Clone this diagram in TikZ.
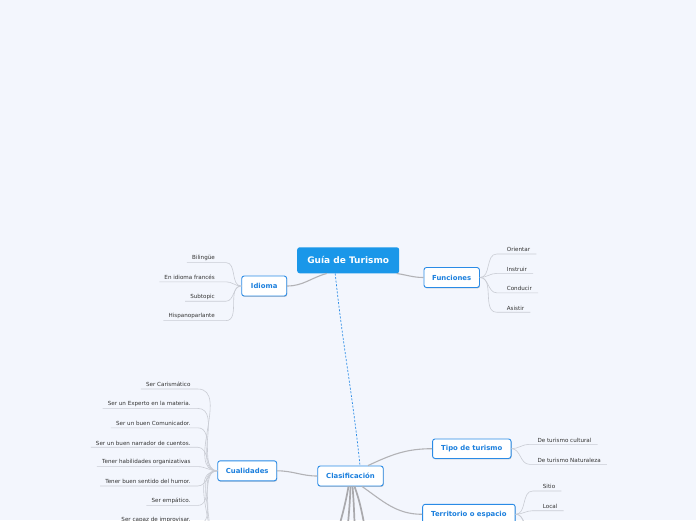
\documentclass[tikz,border=0pt]{standalone}
\usepackage{fontspec}
\setmainfont{DejaVu Sans}
\usetikzlibrary{shadows}
\definecolor{bg}{HTML}{F3F6FD}
\definecolor{mainblue}{HTML}{1A97E9}
\definecolor{subblue}{HTML}{2A8BE6}
\definecolor{subtext}{HTML}{1B7FDD}
\definecolor{leaftext}{HTML}{333333}
\definecolor{leafgray}{HTML}{C9CCD4}
\definecolor{branchgray}{HTML}{B2B2B6}
\tikzset{
  centralbox/.style={fill=mainblue, rounded corners=2.5pt, text=white,
    font=\fontsize{9}{11}\selectfont\bfseries, minimum width=102pt, minimum height=26pt, inner sep=0pt},
  subbox/.style={draw=subblue, line width=0.9pt, fill=white, rounded corners=2.5pt,
    text=subtext, font=\fontsize{6.9}{8}\selectfont\bfseries, minimum height=20pt, inner sep=0pt,
    drop shadow={shadow xshift=0.5pt, shadow yshift=-0.9pt, opacity=0.35, fill=black!60}},
  leaf/.style={text=leaftext, font=\fontsize{5.6}{6.5}\selectfont, inner xsep=0pt, inner ysep=1.8pt},
  leafline/.style={draw=leafgray, line width=0.6pt},
  branch/.style={draw=branchgray, line width=1.1pt},
  thickbranch/.style={draw=branchgray!95!black, line width=1.7pt},
  dashlink/.style={draw=subblue, line width=0.7pt, dash pattern=on 2pt off 1.6pt}
}
\begin{document}
\begin{tikzpicture}[x=1pt,y=-1pt]
\useasboundingbox (0,0) rectangle (696,520);
\clip (0,0) rectangle (696,520);
\fill[bg] (0,0) rectangle (696,520);

% main nodes
\node[centralbox] (central) at (348.2,260.3) {Guía de Turismo};
\node[subbox, minimum width=45pt] (idioma) at (264.2,286) {Idioma};
\node[subbox, minimum width=55.5pt] (funciones) at (451.7,277.5) {Funciones};
\node[subbox, minimum width=65.5pt] (clas) at (350.5,476) {Clasificación};
\node[subbox, minimum width=59pt] (cual) at (247.2,470.8) {Cualidades};
\node[subbox, minimum width=78.5pt, minimum height=19.5pt] (tipo) at (471.8,448.7) {Tipo de turismo};
\node[subbox, minimum width=92.5pt] (terr) at (468.9,514.3) {Territorio o espacio};

% main connectors
\draw[branch] ([xshift=-21.5pt]central.south) to[out=195,in=0] (idioma.east);
\draw[branch] ([xshift=48.5pt]central.south) to[out=-8,in=180] (funciones.west);
\draw[dashlink] ([xshift=-13pt]central.south) to[out=-84,in=96] ([xshift=9.5pt]clas.north);
\draw[branch] (clas.west) to[out=180,in=0] (cual.east);
\draw[branch] ([xshift=17.5pt]clas.north) to[out=25,in=180] (tipo.west);
\draw[branch] ([xshift=11.5pt]clas.south) to[out=-35,in=180] (terr.west);
\coordinate (d1) at (334,545);
\coordinate (d2) at (346,545);
\coordinate (d3) at (356,545);
\coordinate (d4) at (369,545);
\draw[thickbranch] ([xshift=-2pt]clas.south) to[out=-100,in=75] (d1);
\draw[thickbranch] ([xshift=0pt]clas.south) to[out=-92,in=85] (d2);
\draw[thickbranch] ([xshift=2pt]clas.south) to[out=-85,in=95] (d3);
\draw[thickbranch] ([xshift=4pt]clas.south) to[out=-70,in=105] (d4);

% Idioma leaves
\node[leaf, anchor=south east] (i1) at (215,262.6) {Bilingüe};
\node[leaf, anchor=south east] (i2) at (215,281.8) {En idioma francés};
\node[leaf, anchor=south east] (i3) at (215,301.2) {Subtopic};
\node[leaf, anchor=south east] (i4) at (215,320.6) {Hispanoparlante};
\foreach \n in {i1,i2,i3,i4}{
  \draw[leafline] ([xshift=-5pt]\n.south west) -- ([xshift=11pt]\n.south east) to[out=0,in=180] (idioma.west);
}

% Funciones leaves
\node[leaf, anchor=south west] (f1) at (506.7,254) {Orientar};
\node[leaf, anchor=south west] (f2) at (506.7,273.4) {Instruir};
\node[leaf, anchor=south west] (f3) at (506.7,292.8) {Conducir};
\node[leaf, anchor=south west] (f4) at (506.7,312.2) {Asistir};
\foreach \n in {f1,f2,f3,f4}{
  \draw[leafline] (funciones.east) to[out=0,in=180] ([xshift=-10pt]\n.south west) -- ([xshift=6pt]\n.south east);
}

% Cualidades leaves
\node[leaf, anchor=south east] (c1) at (190.7,389) {Ser Carismático};
\node[leaf, anchor=south east] (c2) at (190.7,408.4) {Ser un Experto en  la materia.};
\node[leaf, anchor=south east] (c3) at (190.7,427.8) {Ser un buen Comunicador.};
\node[leaf, anchor=south east] (c4) at (190.7,447.2) {Ser un buen narrador de cuentos.};
\node[leaf, anchor=south east] (c5) at (190.7,466.6) {Tener habilidades organizativas};
\node[leaf, anchor=south east] (c6) at (190.7,486) {Tener buen sentido del humor.};
\node[leaf, anchor=south east] (c7) at (190.7,505.4) {Ser empático.};
\node[leaf, anchor=south east] (c8) at (190.7,524.3) {Ser capaz de improvisar.};
\foreach \n in {c1,c2,c3,c4,c5,c6,c7,c8}{
  \draw[leafline] ([xshift=-5pt]\n.south west) -- ([xshift=7pt]\n.south east) to[out=0,in=180] (cual.west);
}
\coordinate (c9) at (197.7,544.2);
\coordinate (c10) at (197.7,563.6);
\draw[leafline] (c9) to[out=0,in=180] (cual.west);
\draw[leafline] (c10) to[out=0,in=180] (cual.west);

% Tipo de turismo leaves
\node[leaf, anchor=south west] (t1) at (537.3,444.3) {De turismo cultural};
\node[leaf, anchor=south west] (t2) at (537.3,464.3) {De turismo Naturaleza};
\foreach \n in {t1,t2}{
  \draw[leafline] (tipo.east) to[out=0,in=180] ([xshift=-8pt]\n.south west) -- ([xshift=6pt]\n.south east);
}

% Territorio leaves
\node[leaf, anchor=south west] (r1) at (542.7,491) {Sitio};
\node[leaf, anchor=south west] (r2) at (542.7,510.7) {Local};
\foreach \n in {r1,r2}{
  \draw[leafline] (terr.east) to[out=0,in=180] ([xshift=-10pt]\n.south west) -- ([xshift=6pt]\n.south east);
}
\coordinate (r3) at (533,530.4);
\coordinate (r4) at (533,550);
\draw[leafline] (terr.east) to[out=0,in=180] (r3);
\draw[leafline] (terr.east) to[out=0,in=180] (r4);
\end{tikzpicture}
\end{document}
